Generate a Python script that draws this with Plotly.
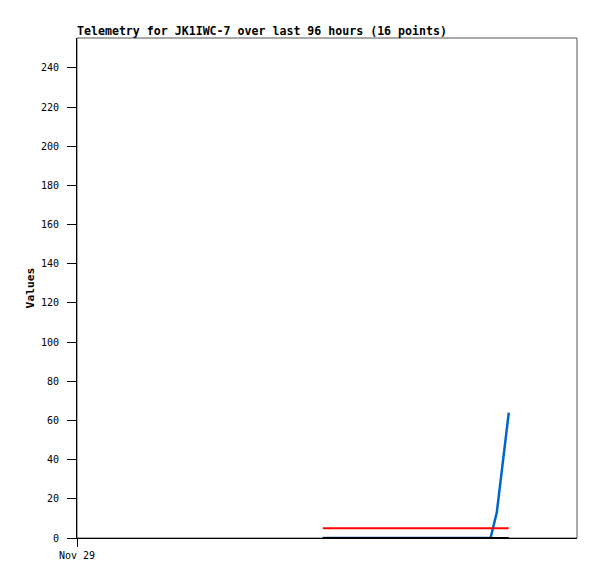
import plotly.graph_objects as go

times = ["2024-11-30 23:12", "2024-12-01 01:48", "2024-12-01 04:24", "2024-12-01 07:00",
         "2024-12-01 09:36", "2024-12-01 12:12", "2024-12-01 14:48", "2024-12-01 17:24",
         "2024-12-01 20:00", "2024-12-01 22:36", "2024-12-02 01:12", "2024-12-02 03:48",
         "2024-12-02 05:36", "2024-12-02 07:24", "2024-12-02 08:36", "2024-12-02 10:54"]
blue_vals = [0, 0, 0, 0, 0, 0, 0, 0, 0, 0, 0, 0, 0, 0, 13, 64]
black_vals = [0] * 16
red_vals = [5] * 16
yticks = list(range(0, 241, 20))

mono = "DejaVu Sans Mono"
fig = go.Figure()
fig.add_trace(go.Scatter(x=times, y=blue_vals, mode="lines", line=dict(color="#0066CC", width=2.5)))
fig.add_trace(go.Scatter(x=times, y=black_vals, mode="lines", line=dict(color="#000000", width=2)))
fig.add_trace(go.Scatter(x=times, y=red_vals, mode="lines", line=dict(color="#FF0000", width=2)))

fig.update_layout(
    width=597, height=579,
    margin=dict(l=69, r=28, t=30, b=49, autoexpand=False),
    paper_bgcolor="white", plot_bgcolor="white",
    showlegend=False,
    title=dict(text="<b>Telemetry for JK1IWC-7 over last 96 hours (16 points)</b>",
               x=0, xanchor="left", xref="paper", y=1 - 23 / 579, yref="container",
               yanchor="middle",
               font=dict(family=mono, size=11.6, color="black")),
    font=dict(family=mono, size=10, color="black"),
    shapes=[dict(type="rect", xref="paper", yref="paper", x0=0, x1=1, y0=0, y1=1,
                 line=dict(color="#555555", width=1), layer="below")],
)
fig.update_xaxes(range=["2024-11-29 00:00", "2024-12-03 00:00"],
                 tickvals=["2024-11-29 00:00"], ticktext=["Nov 29"],
                 ticks="outside", ticklen=8, tickcolor="black",
                 showgrid=False, zeroline=False, showline=True, linecolor="black", linewidth=1,
                 tickfont=dict(family=mono, size=10))
fig.update_yaxes(range=[0, 255.3], tickvals=yticks,
                 ticks="outside", ticklen=9, tickcolor="black", ticklabelstandoff=6,
                 showgrid=False, zeroline=False, showline=True, linecolor="black", linewidth=1,
                 tickfont=dict(family=mono, size=10),
                 title=dict(text="<b>Values</b>", font=dict(family=mono, size=11.3), standoff=3))
fig.write_html("out.html")
